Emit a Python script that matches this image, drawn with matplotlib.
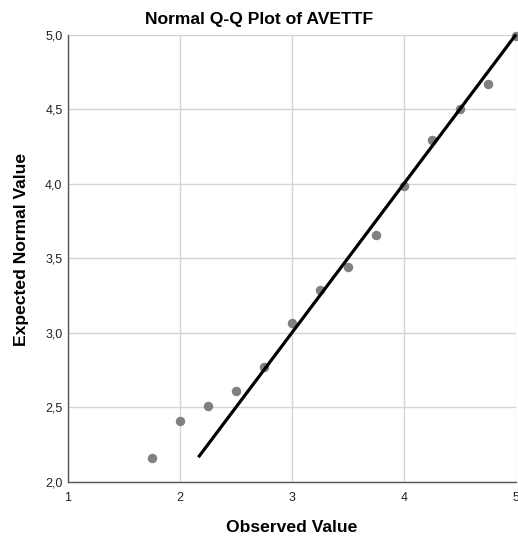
import numpy as np
import matplotlib.pyplot as plt
from matplotlib.ticker import FuncFormatter

plt.rcParams['font.family'] = ['Liberation Sans', 'DejaVu Sans']

# Observed vs expected normal values
observed = [1.75, 2.00, 2.25, 2.50, 2.75, 3.00, 3.25, 3.50, 3.75, 4.00, 4.25, 4.50, 4.75, 5.00]
expected = [2.157, 2.407, 2.51, 2.61, 2.77, 3.063, 3.287, 3.443, 3.658, 3.987, 4.289, 4.499, 4.669, 4.987]
line_range = [2.164, 5.0]

W, H = 518, 541
fig = plt.figure(figsize=(W / 100, H / 100), dpi=100)
ax = fig.add_axes([68 / W, 1 - 481.7 / H, 448 / W, 447.2 / H])

ax.plot(observed, expected, 'o', color='#808080', markersize=5.8, zorder=3, clip_on=False)
ax.plot(line_range, line_range, color='black', linewidth=2.3, zorder=4,
        solid_capstyle='butt', clip_on=False)

ax.set_xlim(1, 5)
ax.set_ylim(2, 5)
ax.set_xticks([1, 2, 3, 4, 5])
ax.set_yticks([2.0, 2.5, 3.0, 3.5, 4.0, 4.5, 5.0])
ax.xaxis.set_major_formatter(FuncFormatter(lambda v, p: f"{v:.0f}"))
ax.yaxis.set_major_formatter(FuncFormatter(lambda v, p: f"{v:.1f}".replace('.', ',')))
ax.tick_params(length=0, labelsize=9, colors='#222222')
ax.tick_params(axis='x', pad=7.5)
ax.tick_params(axis='y', pad=4)

ax.grid(True, color='#d4d4d4', linewidth=1)
ax.set_axisbelow(True)
for s in ['top', 'right']:
    ax.spines[s].set_visible(False)
for s in ['left', 'bottom']:
    ax.spines[s].set_color('#555555')
    ax.spines[s].set_linewidth(1)

fig.text(0.5, 1 - 24 / H, "Normal Q-Q Plot of AVETTF", fontsize=12.6,
         fontweight='bold', ha='center', va='baseline')
fig.text(292 / W, 1 - 527 / H, "Observed Value", fontsize=12.6,
         fontweight='bold', ha='center', va='center')
fig.text(22 / W, 1 - 249 / H, "Expected Normal Value", fontsize=12.6,
         fontweight='bold', ha='center', va='center', rotation=90)

fig.savefig("out.png", dpi=100)
